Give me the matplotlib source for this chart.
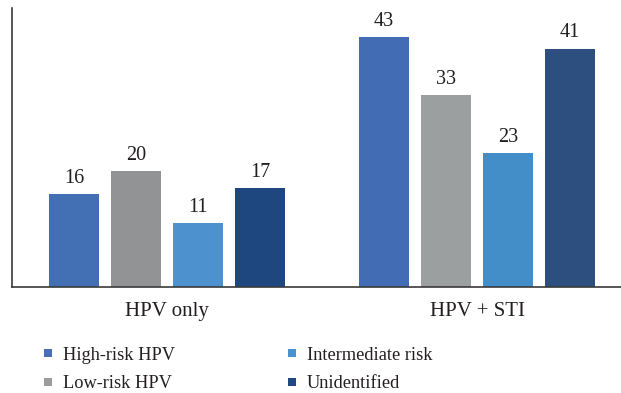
import matplotlib
matplotlib.use("Agg")
import matplotlib.pyplot as plt
from matplotlib.lines import Line2D

groups = ["HPV only", "HPV + STI"]
series = ["High-risk HPV", "Low-risk HPV", "Intermediate risk", "Unidentified"]
values = {
    "High-risk HPV": [16, 43],
    "Low-risk HPV": [20, 33],
    "Intermediate risk": [11, 23],
    "Unidentified": [17, 41],
}
bar_colors = {
    "High-risk HPV": ["#4370b4", "#426cb4"],
    "Low-risk HPV": ["#929395", "#9c9fa0"],
    "Intermediate risk": ["#4e91cf", "#438dc8"],
    "Unidentified": ["#1f477f", "#2c4f80"],
}
legend_colors = ["#4a6fb8", "#9a9c9d", "#4b93d0", "#1f4a80"]

plt.rcParams["font.family"] = ["Liberation Serif", "DejaVu Serif"]
text_color = "#231f20"

fig = plt.figure(figsize=(6.21, 3.93), dpi=100)
W, H = 621, 393
ax = fig.add_axes([12 / W, 106 / H, (621 - 12) / W, 279 / H])

spacing = 0.2
width = 0.161
offsets = [(-1.5 + i) * spacing for i in range(len(series))]

for s, off in zip(series, offsets):
    for g in range(len(groups)):
        v = values[s][g]
        ax.bar(g + off, v, width=width, color=bar_colors[s][g], linewidth=0)
        ax.annotate(str(v), (g + off, v), xytext=(0, 4.5), textcoords="offset points",
                    ha="center", va="bottom", fontsize=14.5, color=text_color)

ax.set_xlim(-0.5, 1.4645)
ax.set_ylim(0, 48)
ax.set_xticks(range(len(groups)))
ax.set_xticklabels(groups, fontsize=15, color=text_color)
ax.tick_params(axis="x", length=0, pad=10.5)
ax.set_yticks([])
for side in ["top", "right"]:
    ax.spines[side].set_visible(False)
for side in ["left", "bottom"]:
    ax.spines[side].set_color("#3a3a3a")
    ax.spines[side].set_linewidth(1.2)

handles = [Line2D([], [], marker="s", linestyle="none", markersize=5.8,
                  markerfacecolor=c, markeredgewidth=0) for c in legend_colors]
fig.legend(handles, series, ncol=2, loc="upper left",
           bbox_to_anchor=(22 / W, 1 - 330 / H), frameon=False,
           fontsize=13.2, labelcolor=text_color, handlelength=1.0,
           handletextpad=0.32, columnspacing=5.9, labelspacing=0.64)

fig.savefig("out.png", dpi=100)
